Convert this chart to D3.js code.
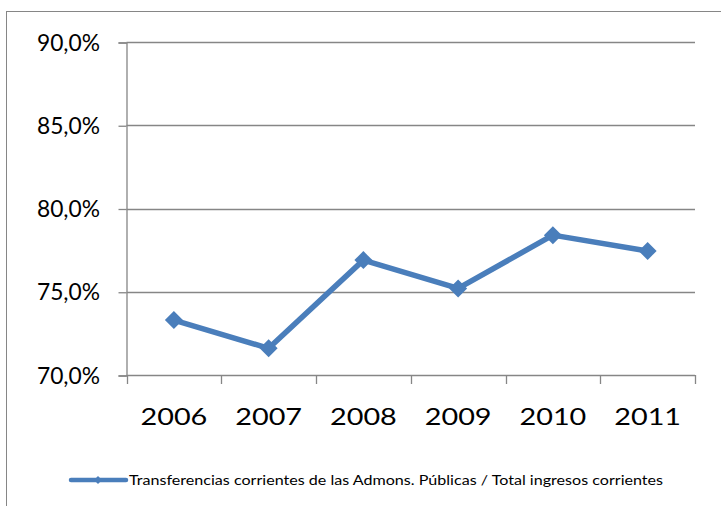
<!DOCTYPE html>
<html>
<head>
<meta charset="utf-8">
<script src="https://cdn.jsdelivr.net/npm/d3@7"></script>
<style>
  body { margin: 0; background: #fff; }
  text { font-family: Lato, "Open Sans", sans-serif; fill: #000; }
</style>
</head>
<body>
<svg id="chart" width="721" height="506"></svg>
<script>
var years = ["2006", "2007", "2008", "2009", "2010", "2011"]
var values = [73.3, 71.6, 76.9, 75.2, 78.4, 77.45]
var yTicks = [70, 75, 80, 85, 90]
var seriesName = "Transferencias corrientes de las Admons. Públicas / Total ingresos corrientes"

var svg = d3.select("#chart")
var gray = "#868686", blue = "#4a7ebb"
var stretch = 1.2   // the reference year labels are a bit wide

// outer chart frame (cut off at right and bottom)
svg.append("rect")
  .attr("x", 6.5).attr("y", 11.5)
  .attr("width", 800).attr("height", 600)
  .attr("fill", "none").attr("stroke", gray)

var pLeft = 126.5, pRight = 695, pTop = 42, pBottom = 375

var x = d3.scaleBand().domain(years).range([pLeft, pRight])
var y = d3.scaleLinear().domain([70, 90]).range([pBottom, pTop])

var fmt = function(v){ return d3.format(".1f")(v).replace(".", ",") + "%" }

// gridlines
svg.append("g").selectAll("line")
  .data(yTicks.slice(1))
  .enter().append("line")
    .attr("x1", pLeft).attr("x2", pRight)
    .attr("y1", function(d){ return Math.round(y(d)) + 0.5 })
    .attr("y2", function(d){ return Math.round(y(d)) + 0.5 })
    .attr("stroke", gray).attr("stroke-width", 1.3)

// y axis
var yAxis = svg.append("g")
  .attr("transform", "translate(" + pLeft + ",0.5)")
  .call(d3.axisLeft(y).tickValues(yTicks).tickFormat("").tickSize(8))
yAxis.select(".domain").attr("stroke", gray).attr("stroke-width", 1.3)
yAxis.selectAll(".tick line").attr("stroke", gray).attr("stroke-width", 1.3)

svg.append("g").selectAll("text")
  .data(yTicks)
  .enter().append("text")
    .attr("transform", function(d){ return "translate(100," + (y(d) + 8.5) + ") scale(0.95,1)" })
    .attr("text-anchor", "end")
    .style("font-size", "24px")
    .text(fmt)

// x axis: ticks at category boundaries
var bounds = years.map(function(d){ return x(d) }).concat([x(years[years.length-1]) + x.bandwidth()])
var xg = svg.append("g")
xg.append("line")
  .attr("x1", pLeft).attr("x2", pRight)
  .attr("y1", pBottom + 0.5).attr("y2", pBottom + 0.5)
  .attr("stroke", gray).attr("stroke-width", 1.3)
xg.selectAll(".xt").data(bounds).enter().append("line")
  .attr("x1", function(d){ return Math.round(d) + 0.5 })
  .attr("x2", function(d){ return Math.round(d) + 0.5 })
  .attr("y1", pBottom).attr("y2", pBottom + 9)
  .attr("stroke", gray).attr("stroke-width", 1.3)
xg.selectAll("text").data(years).enter().append("text")
  .attr("transform", function(d){ return "translate(" + (x(d) + x.bandwidth()/2) + ",425) scale(" + stretch + ",1)" })
  .attr("text-anchor", "middle")
  .style("font-size", "24px")
  .text(function(d){ return d })

// series line
var pts = years.map(function(d, i){ return [x(d) + x.bandwidth()/2, y(values[i])] })
svg.append("path")
  .attr("d", d3.line()(pts))
  .attr("fill", "none").attr("stroke", blue)
  .attr("stroke-width", 5.5).attr("stroke-linejoin", "round")

function diamond(cx, cy, r){
  return d3.line()([[cx, cy - r], [cx + r, cy], [cx, cy + r], [cx - r, cy]]) + "Z"
}
svg.append("g").selectAll("path")
  .data(pts)
  .enter().append("path")
    .attr("d", function(p){ return diamond(p[0], p[1], 9) })
    .attr("fill", blue)

// legend
svg.append("line")
  .attr("x1", 71).attr("x2", 126)
  .attr("y1", 480).attr("y2", 480)
  .attr("stroke", blue).attr("stroke-width", 4.5).attr("stroke-linecap", "round")
svg.append("path").attr("d", diamond(98, 480, 4)).attr("fill", blue)
svg.append("text")
  .attr("transform", "translate(129,485) scale(1.15,1)")
  .style("font-size", "14px")
  .text(seriesName)
</script>
</body>
</html>
